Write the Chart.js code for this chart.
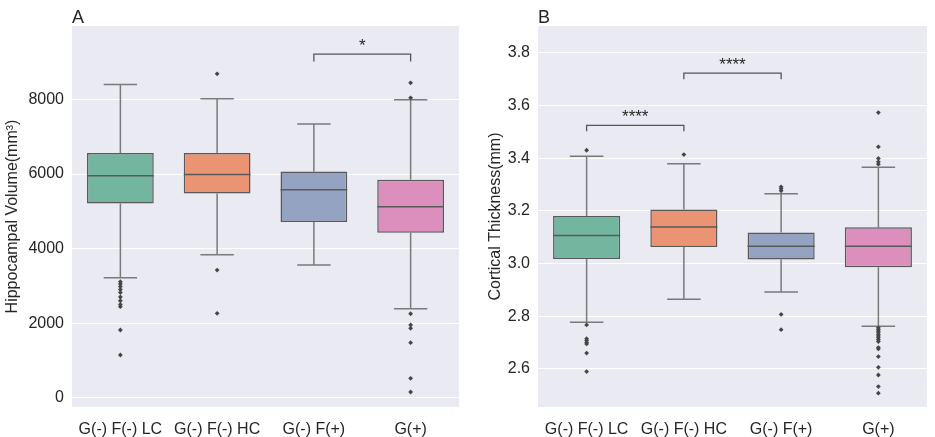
<!DOCTYPE html>
<html>
<head>
<meta charset="utf-8">
<script src="https://cdn.jsdelivr.net/npm/chart.js@4.4.1/dist/chart.umd.min.js"></script>
<style>
  html, body { margin: 0; padding: 0; background: #fff; }
  .panel { position: absolute; top: 0; height: 437px; }
  #wrapA { left: 0; width: 467px; }
  #wrapB { left: 467px; width: 468px; }
</style>
</head>
<body>
<div class="panel" id="wrapA"><canvas id="chartA"></canvas></div>
<div class="panel" id="wrapB"><canvas id="chartB"></canvas></div>
<script>
var categories = ["G(-) F(-) LC", "G(-) F(-) HC", "G(-) F(+)", "G(+)"];
var boxColors = ["#73b6a0", "#ea9474", "#95a3c3", "#dc8fbc"];

// A: hippocampal volume
var volLow = [3217, 3834, 3558, 2386];
var volQ1 = [5212, 5480, 4710, 4424];
var volMedian = [5952, 5989, 5576, 5121];
var volQ3 = [6560, 6560, 6070, 5845];
var volHigh = [8402, 8016, 7338, 7989];
var volOutliers = [
  [3110, 3050, 2980, 2900, 2820, 2700, 2600, 2500, 2440, 1815, 1145],
  [8686, 3424, 2263],
  [],
  [8445, 8043, 2252, 1949, 1860, 1475, 520, 153]
];
var volTicks = [0, 2000, 4000, 6000, 8000];
var volBrackets = [{ from: 2, to: 3, top: 9214, leg: 9018, text: "*" }];

// B: cortical thickness
var thkLow = [2.777, 2.864, 2.892, 2.762];
var thkQ1 = [3.0175, 3.063, 3.015, 2.986];
var thkMedian = [3.106, 3.139, 3.066, 3.066];
var thkQ3 = [3.180, 3.205, 3.118, 3.138];
var thkHigh = [3.4076, 3.379, 3.265, 3.365];
var thkOutliers = [
  [3.430, 2.767, 2.715, 2.708, 2.700, 2.695, 2.660, 2.590],
  [3.4135],
  [3.291, 3.284, 3.276, 2.807, 2.749],
  [3.573, 3.443, 3.399, 3.386, 3.377, 2.756, 2.750, 2.744, 2.738, 2.731, 2.725,
   2.718, 2.711, 2.704, 2.681, 2.676, 2.647, 2.606, 2.577, 2.533, 2.508]
];
var thkTicks = [2.6, 2.8, 3.0, 3.2, 3.4, 3.6, 3.8];
var thkBrackets = [
  { from: 0, to: 1, top: 3.524, leg: 3.502, text: "****" },
  { from: 1, to: 2, top: 3.723, leg: 3.699, text: "****" }
];

Chart.defaults.font.family = "'Liberation Sans', Arial, sans-serif";
Chart.defaults.color = "#262626";

function boxParts(letter, low, q1, median, q3, high, brackets) {
  return {
    id: "boxParts" + letter,
    beforeDraw: function (chart) {
      var a = chart.chartArea, ctx = chart.ctx;
      ctx.save();
      ctx.fillStyle = "#eaeaf2";
      ctx.fillRect(a.left, a.top, a.width, a.height);
      ctx.restore();
    },
    beforeDatasetsDraw: function (chart) {
      var ctx = chart.ctx, x = chart.scales.x, y = chart.scales.y;
      var bars = chart.getDatasetMeta(0).data;
      ctx.save();
      ctx.strokeStyle = "#7a7a7a";
      ctx.lineWidth = 1.5;
      categories.forEach(function (c, i) {
        var cx = x.getPixelForValue(i);
        var cap = bars[i].width / 4;
        var hy = y.getPixelForValue(high[i]), ly = y.getPixelForValue(low[i]);
        ctx.beginPath();
        ctx.moveTo(cx, y.getPixelForValue(q3[i])); ctx.lineTo(cx, hy);
        ctx.moveTo(cx, y.getPixelForValue(q1[i])); ctx.lineTo(cx, ly);
        ctx.moveTo(cx - cap, hy); ctx.lineTo(cx + cap, hy);
        ctx.moveTo(cx - cap, ly); ctx.lineTo(cx + cap, ly);
        ctx.stroke();
      });
      ctx.restore();
    },
    afterDatasetsDraw: function (chart) {
      var ctx = chart.ctx, y = chart.scales.y;
      var bars = chart.getDatasetMeta(0).data;
      ctx.save();
      ctx.strokeStyle = "#595959";
      ctx.lineWidth = 1.5;
      bars.forEach(function (b, i) {
        var my = y.getPixelForValue(median[i]);
        ctx.beginPath();
        ctx.moveTo(b.x - b.width / 2, my);
        ctx.lineTo(b.x + b.width / 2, my);
        ctx.stroke();
      });
      ctx.restore();
    },
    afterDraw: function (chart) {
      var ctx = chart.ctx, x = chart.scales.x, y = chart.scales.y, a = chart.chartArea;
      ctx.save();
      ctx.strokeStyle = "#555555";
      ctx.lineWidth = 1.3;
      ctx.fillStyle = "#262626";
      ctx.textAlign = "center";
      ctx.textBaseline = "alphabetic";
      ctx.font = "17px 'Liberation Sans', Arial, sans-serif";
      brackets.forEach(function (br) {
        var x1 = x.getPixelForValue(br.from), x2 = x.getPixelForValue(br.to);
        var ty = y.getPixelForValue(br.top), ly = y.getPixelForValue(br.leg);
        ctx.beginPath();
        ctx.moveTo(x1, ly); ctx.lineTo(x1, ty); ctx.lineTo(x2, ty); ctx.lineTo(x2, ly);
        ctx.stroke();
        ctx.fillText(br.text, (x1 + x2) / 2, ty - 3);
      });
      ctx.textAlign = "left";
      ctx.font = "18px 'Liberation Sans', Arial, sans-serif";
      ctx.fillText(letter, a.left, 23);
      ctx.restore();
    }
  };
}

function makeChart(id, letter, low, q1, median, q3, high, outliers, ticks, brackets,
                   yMin, yMax, yTitle, titlePad, axisWidth, fmt) {
  var points = [];
  outliers.forEach(function (list, i) {
    list.forEach(function (v) { points.push({ x: categories[i], y: v }); });
  });
  return new Chart(document.getElementById(id), {
    type: "bar",
    data: {
      labels: categories,
      datasets: [{
        type: "bar",
        data: q1.map(function (v, i) { return [v, q3[i]]; }),
        backgroundColor: boxColors,
        borderColor: "#595959",
        borderWidth: 1.5,
        borderSkipped: false,
        barPercentage: 0.69,
        categoryPercentage: 1.0,
        order: 2
      }, {
        type: "line",
        data: points,
        showLine: false,
        pointStyle: "rectRot",
        pointRadius: 2.4,
        pointBackgroundColor: "#454545",
        pointBorderWidth: 0,
        pointHoverRadius: 2.4,
        order: 1
      }]
    },
    options: {
      responsive: true,
      maintainAspectRatio: false,
      animation: false,
      events: [],
      layout: { padding: { top: 26, right: 8, left: 0, bottom: 0 } },
      plugins: { legend: { display: false }, tooltip: { enabled: false } },
      scales: {
        x: {
          grid: { display: false },
          border: { display: false },
          ticks: { font: { size: 16 }, padding: 5, color: "#262626", maxRotation: 0 },
          afterFit: function (s) { s.height = 30; }
        },
        y: {
          min: yMin,
          max: yMax,
          grid: { color: "#ffffff", lineWidth: 1, drawTicks: false },
          border: { display: false },
          afterBuildTicks: function (s) {
            s.ticks = ticks.map(function (v) { return { value: v }; });
          },
          ticks: {
            font: { size: 16 },
            padding: 8,
            color: "#262626",
            callback: function (v) { return fmt(v); }
          },
          title: {
            display: true,
            text: yTitle,
            font: { size: 16 },
            color: "#262626",
            padding: { top: titlePad, bottom: 0 }
          },
          afterFit: function (s) { s.width = axisWidth; }
        }
      }
    },
    plugins: [boxParts(letter, low, q1, median, q3, high, brackets)]
  });
}

makeChart("chartA", "A", volLow, volQ1, volMedian, volQ3, volHigh, volOutliers, volTicks,
  volBrackets, -250, 9970, "Hippocampal Volume(mm\u00b3)", 3, 72,
  function (v) { return String(v); });

makeChart("chartB", "B", thkLow, thkQ1, thkMedian, thkQ3, thkHigh, thkOutliers, thkTicks,
  thkBrackets, 2.4555, 3.9015, "Cortical Thickness(mm)", 19, 71,
  function (v) { return v.toFixed(1); });
</script>
</body>
</html>
